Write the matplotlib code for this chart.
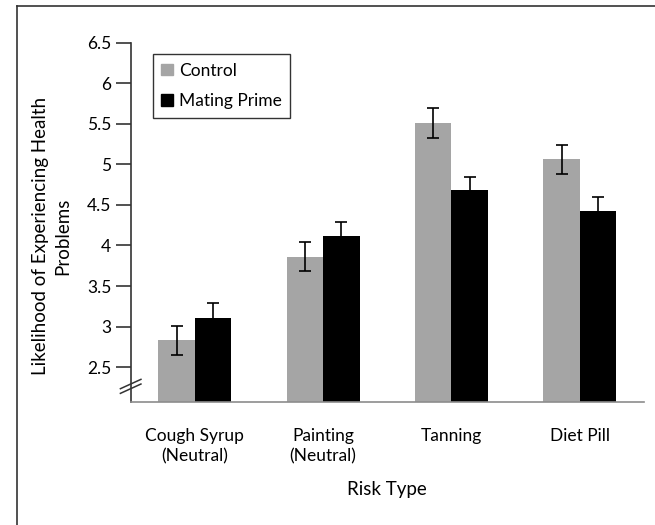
import numpy as np
import matplotlib
matplotlib.use('Agg')
import matplotlib.pyplot as plt
from matplotlib.lines import Line2D
from matplotlib.patches import Patch

plt.rcParams['font.family'] = ['Lato', 'DejaVu Sans']

categories = ['Cough Syrup\n(Neutral)', 'Painting\n(Neutral)', 'Tanning', 'Diet Pill']
control = [2.83, 3.86, 5.51, 5.06]
control_err = [0.18, 0.18, 0.18, 0.18]
mating = [3.11, 4.12, 4.68, 4.43]
mating_err = [0.18, 0.17, 0.17, 0.17]
yticks = [2.5, 3, 3.5, 4, 4.5, 5, 5.5, 6, 6.5]
yticklabels = ['2.5', '3', '3.5', '4', '4.5', '5', '5.5', '6', '6.5']

fig = plt.figure(figsize=(6.55, 5.25), dpi=100)
ax = fig.add_axes([0.1995, 0.2343, 0.7837, 0.6844])

x = np.arange(len(categories))
w = 0.284
ax.bar(x - w / 2, control, w, color='#a5a5a5', label='Control')
ax.bar(x + w / 2, mating, w, color='black', label='Mating Prime')
ax.errorbar(x - w / 2, control, yerr=control_err, fmt='none', ecolor='black',
            elinewidth=1.2, capsize=4, capthick=1.2)
ax.errorbar(x + w / 2, mating, yerr=mating_err, fmt='none', ecolor='black',
            elinewidth=1.2, capsize=4, capthick=1.2)

ax.set_xlim(-0.5, 3.5)
ax.set_ylim(2.07, 6.5)
ax.set_yticks(yticks)
ax.set_yticklabels(yticklabels, fontsize=12.5)
ax.set_xticks(x)
ax.set_xticklabels(categories, fontsize=12.5, linespacing=1.3)
ax.tick_params(axis='x', length=0, pad=19)
ax.tick_params(axis='y', length=11, width=1.2, color='#333333', pad=3)

for s in ['top', 'right']:
    ax.spines[s].set_visible(False)
ax.spines['left'].set_color('#333333')
ax.spines['left'].set_linewidth(1.2)
ax.spines['bottom'].set_color('#8c8c8c')
ax.spines['bottom'].set_linewidth(1.2)

# axis break marks
for dy in (0.0, 0.013):
    ax.plot([-0.02, 0.02], [0.024 + dy, 0.05 + dy], transform=ax.transAxes,
            color='#333333', lw=1.1, clip_on=False)

handles = [Patch(color='#a5a5a5', label='Control'), Patch(color='black', label='Mating Prime')]
leg = ax.legend(handles=handles, loc='upper left', bbox_to_anchor=(0.026, 0.993),
                fontsize=12.5, frameon=True, fancybox=False, edgecolor='black',
                handlelength=0.65, handleheight=0.65, handletextpad=0.35,
                labelspacing=0.85, borderpad=0.5)
leg.get_frame().set_linewidth(1.0)

fig.text(0.079, 0.55, 'Likelihood of Experiencing Health\nProblems', rotation=90,
         ha='center', va='center', fontsize=13.5, linespacing=1.4)
fig.text(0.591, 0.067, 'Risk Type', ha='center', va='center', fontsize=13.5)

# figure frame (left and top edges)
fig.add_artist(Line2D([0.026, 0.026], [0, 0.989], transform=fig.transFigure, color='#333333', lw=1.2))
fig.add_artist(Line2D([0.026, 1.0], [0.989, 0.989], transform=fig.transFigure, color='#333333', lw=1.2))

fig.savefig('out.png', dpi=100)
